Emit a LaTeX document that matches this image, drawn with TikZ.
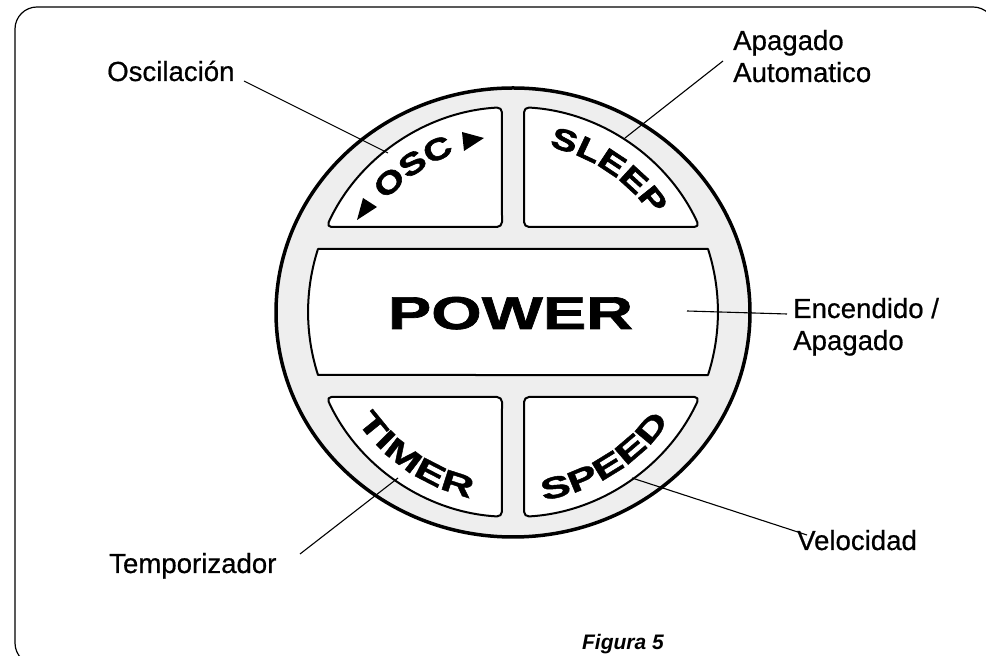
\documentclass[tikz,border=0pt]{standalone}
\usepackage{fontspec}
\setmainfont{Liberation Sans}[FakeBold=0.6]
\newfontfamily\figfont{Liberation Sans}
\newfontfamily\widetop{Liberation Sans}[FakeStretch=1.3,FakeBold=2]
\newfontfamily\widebot{Liberation Sans}[FakeStretch=1.5,FakeBold=1.4]
\newfontfamily\powerfont{Liberation Sans}[FakeStretch=1.41,FakeBold=1.5]
\newcommand{\arctop}{\widetop\bfseries\fontsize{30}{30}\selectfont}
\newcommand{\arcbot}{\widebot\bfseries\fontsize{30}{30}\selectfont}
\usetikzlibrary{decorations.text}
\tikzset{
  x=1pt,y=1pt,
  ring/.style={draw=black,line width=3.5pt,fill=ringgray},
  panel/.style={draw=black,line width=2pt,fill=white,line join=round},
  callout/.style={inner sep=0pt,font=\fontsize{27.6}{32}\selectfont,align=left,anchor=base west},
  leader/.style={draw=black,line width=1.1pt},
  frameline/.style={draw=black,line width=1.2pt,rounded corners=22pt},
  arctext/.style={decorate,decoration={text along path,text={#1},text align=center}},
}
\definecolor{ringgray}{HTML}{EEEEEE}
\begin{document}
\begin{tikzpicture}
\useasboundingbox (0,0) rectangle (986,656);
\clip (0,0) rectangle (986,656);
\draw[frameline] (15,649) rectangle (995,-9);
\draw[ring] (513,343.5) ellipse [x radius=237pt,y radius=224.5pt];
% buttons
\draw[panel,rounded corners=5pt] (502,429) -- (326.5,429) arc[start angle=155.5,end angle=93.1,radius=205pt] -- cycle;
\draw[panel,rounded corners=5pt] (524,429) -- (524,548.7) arc[start angle=86.9,end angle=24.5,radius=205pt] -- cycle;
\draw[panel,rounded corners=5pt] (326.5,259) arc[start angle=204.5,end angle=266.9,radius=205pt] -- (502,259) -- cycle;
\draw[panel,rounded corners=5pt] (699.5,259) arc[start angle=-24.5,end angle=-86.9,radius=205pt] -- (524,259) -- cycle;
\draw[panel] (318,407) -- (708,407) arc[start angle=17.9,end angle=-17.9,radius=205pt] -- (318,281) arc[start angle=197.9,end angle=162.1,radius=205pt] -- cycle;
% button labels
\node[inner sep=0pt,anchor=base] (power) at (510.5,327) {\powerfont\bfseries\fontsize{46}{46}\selectfont POWER};
\path[arctext={|\arctop|OSC}] (513,344) ++(170:169pt) arc[start angle=170,end angle=79,radius=169pt];
\path[arctext={|\arctop|SLEEP}] (513,344) ++(116:169pt) arc[start angle=116,end angle=-4,radius=169pt];
\path[arctext={|\arcbot|TIMER}] (513,344) ++(176:190.7pt) arc[start angle=176,end angle=296,radius=190.7pt];
\path[arctext={|\arcbot|SPEED}] (513,344) ++(242:190.7pt) arc[start angle=242,end angle=362,radius=190.7pt];
\fill (363,458) -- (377,449) -- (357,436) -- cycle;
\fill (462,524) -- (484,518) -- (464,505) -- cycle;
% callouts
\node[callout] (osc) at (107,575) {Oscilación};
\node[callout] (auto) at (733,574) {Apagado\\Automatico};
\node[callout] (onoff) at (793,306) {Encendido /\\Apagado};
\node[callout] (tempo) at (109,83) {Temporizador};
\node[callout] (vel) at (797,106) {Velocidad};
\node[inner sep=0pt,anchor=base east] (fig) at (664,6) {\figfont\bfseries\itshape\fontsize{21}{21}\selectfont Figura 5};
% leaders
\coordinate (a1) at (244,575); \coordinate (a2) at (388,503);
\coordinate (b1) at (723,595); \coordinate (b2) at (625,518);
\coordinate (c1) at (787,342); \coordinate (c2) at (687,345);
\coordinate (d1) at (300,102); \coordinate (d2) at (398,178);
\coordinate (e1) at (807,121); \coordinate (e2) at (632,178);
\draw[leader] (a1) -- (a2);
\draw[leader] (b1) -- (b2);
\draw[leader] (c1) -- (c2);
\draw[leader] (d1) -- (d2);
\draw[leader] (e1) -- (e2);
\end{tikzpicture}
\end{document}
